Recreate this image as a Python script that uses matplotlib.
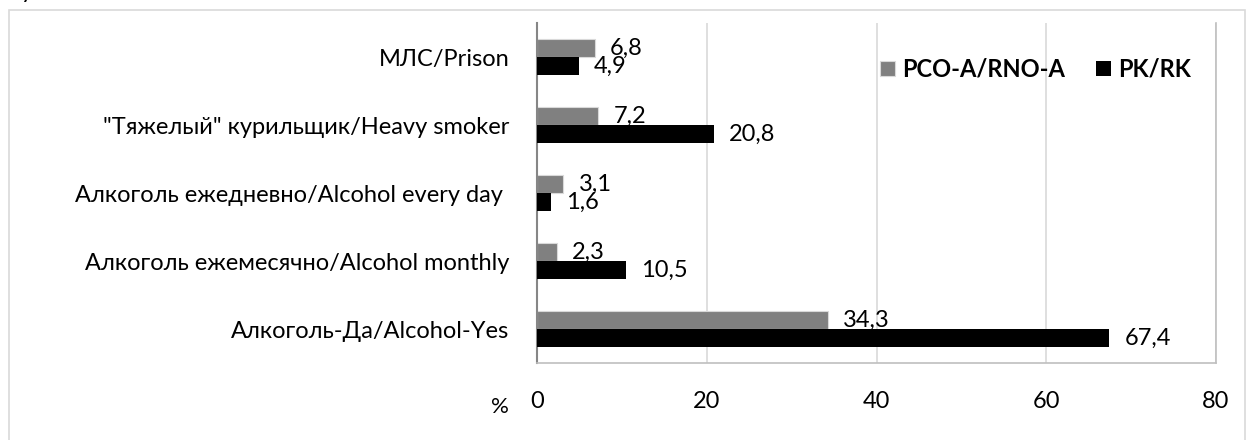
import matplotlib.pyplot as plt
import numpy as np
from matplotlib.patches import Rectangle

plt.rcParams["font.family"] = ["Lato", "DejaVu Sans"]

categories = ["МЛС/Prison",
              "\"Тяжелый\" курильщик/Heavy smoker",
              "Алкоголь ежедневно/Alcohol every day ",
              "Алкоголь ежемесячно/Alcohol monthly",
              "Алкоголь-Да/Alcohol-Yes"]
rco = [6.8, 7.2, 3.1, 2.3, 34.3]
rk = [4.9, 20.8, 1.6, 10.5, 67.4]
series_names = ["PCO-A/RNO-A", "PK/RK"]
xticks = [0, 20, 40, 60, 80]

fig = plt.figure(figsize=(12.49, 4.40), dpi=100)
ax = fig.add_axes([537/1249, 1-363/440, (1216-537)/1249, 340/440])

y = np.arange(len(categories))
h = 0.26
b1 = ax.barh(y - 0.135, rco, height=h, color='#808080', edgecolor='#d9d9d9', lw=0.8, zorder=2, label=series_names[0])
b2 = ax.barh(y + 0.135, rk, height=h, color='black', zorder=4, label=series_names[1])

def fmt(v):
    return ("%.1f" % v).replace('.', ',')

# gray labels sit under the black bars, like in the original
for yi, v in zip(y, rco):
    ax.annotate(fmt(v), (v, yi - 0.12), xytext=(11, 0), textcoords='offset points',
                ha='left', va='center', fontsize=17, zorder=3)
for yi, v in zip(y, rk):
    ax.annotate(fmt(v), (v, yi + 0.135), xytext=(11, 0), textcoords='offset points',
                ha='left', va='center', fontsize=17, zorder=5)

ax.set_xlim(0, 80)
ax.set_ylim(4.5, -0.5)
ax.set_xticks(xticks)
ax.set_yticks(y)
ax.set_yticklabels(categories, fontsize=17)
ax.tick_params(axis='y', length=0, pad=20)
ax.tick_params(axis='x', length=0, pad=20, labelsize=17)
ax.xaxis.grid(True, color='#d9d9d9', lw=1.2, zorder=0)
ax.set_axisbelow(True)
ax.spines['top'].set_visible(False)
ax.spines['left'].set_color('#868686')
ax.spines['left'].set_linewidth(1.5)
ax.spines['bottom'].set_color('#bfbfbf')
ax.spines['bottom'].set_linewidth(1.2)
ax.spines['right'].set_color('#bfbfbf')
ax.spines['right'].set_linewidth(1.2)

ax.legend(loc='upper right', bbox_to_anchor=(0.995, 0.96), ncol=2, frameon=False,
          prop={'weight': 'bold', 'size': 17}, handlelength=0.65, handleheight=0.65,
          handletextpad=0.3, columnspacing=1.3)

fig.text(500/1249, 1-407/440, "%", fontsize=16, ha='center', va='center')
fig.text(27/1249, 1.005, "у", fontsize=17, ha='center', va='baseline')

fig.patches.append(Rectangle((9/1249, -0.05), (1245-9)/1249, 1.05-10/440, transform=fig.transFigure,
                             fill=False, edgecolor='#d9d9d9', lw=1.2))

fig.savefig('out.png', dpi=100)
